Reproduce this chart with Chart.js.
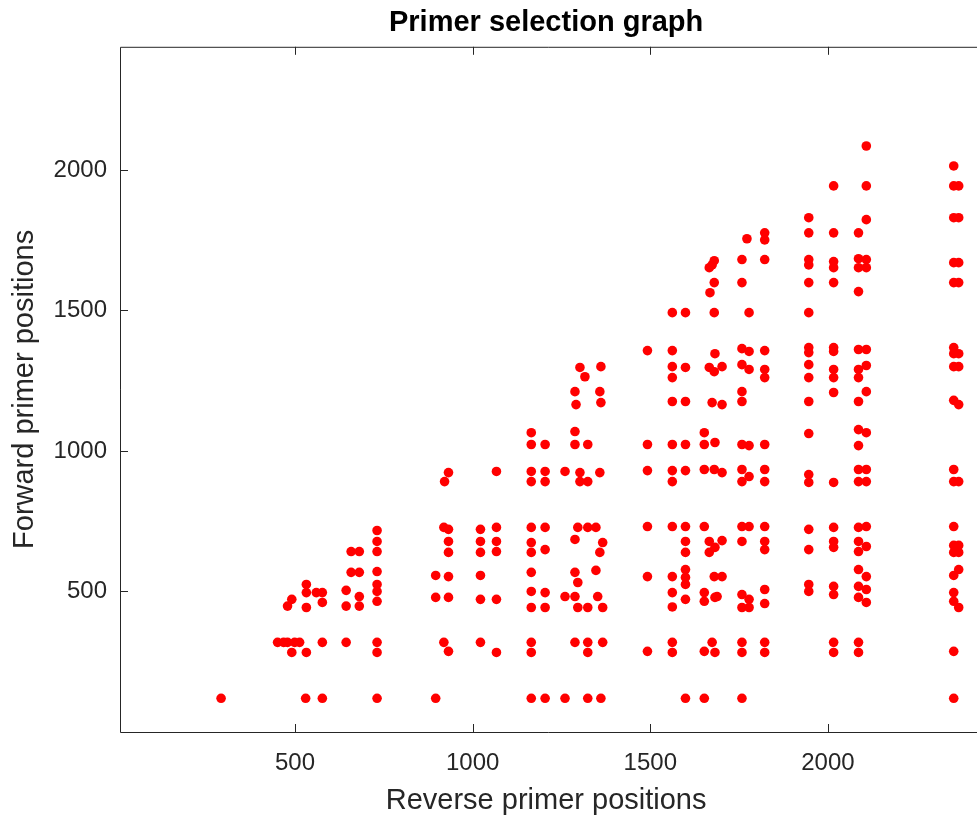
<!DOCTYPE html>
<html>
<head>
<meta charset="utf-8">
<title>Primer selection graph</title>
<script src="https://cdn.jsdelivr.net/npm/chart.js@4.4.1/dist/chart.umd.min.js"></script>
<style>
  html, body { margin: 0; padding: 0; background: #fff; }
  #wrap { width: 977px; height: 819px; }
</style>
</head>
<body>
<div id="wrap"><canvas id="chart"></canvas></div>
<script>
// reverse primer position of each column of points
const reversePos = [
  292, 451, 468, 479, 491, 499, 513, 530, 532, 560, 577, 644, 658, 681, 731,
  896, 919, 921, 932, 1022, 1067,
  1165, 1204, 1260, 1288, 1291, 1296, 1302, 1316, 1324, 1347, 1352, 1358, 1361, 1366,
  1492, 1562, 1599, 1652, 1666, 1668, 1674, 1680, 1682, 1688, 1702,
  1758, 1772, 1778, 1822, 1946, 2016, 2086, 2108, 2354, 2368
];

// forward primer positions found in that column
const forwardPos = [
  [120], [319], [319], [319, 448], [283, 472], [319], [319], [120],
  [283, 443, 496, 525], [496], [120, 319, 461, 496], [319, 448, 504],
  [568, 642], [448, 482, 568, 642],
  [120, 283, 319, 465, 500, 525, 571, 642, 678, 717],
  [120, 479, 557], [319, 728], [891],
  [287, 479, 553, 639, 678, 721, 923],
  [319, 472, 557, 639, 678, 721],
  [283, 472, 642, 678, 728, 927],
  [120, 283, 319, 443, 500, 568, 639, 674, 728, 891, 927, 1023, 1065],
  [120, 443, 496, 649, 728, 891, 927, 1023],
  [120, 482, 927],
  [319, 482, 568, 685, 1023, 1069, 1211],
  [1165], [443, 532, 728], [891, 923, 1297], [1264],
  [120, 283, 319, 443, 728, 891, 1023],
  [575, 728], [482], [639, 923, 1211], [120, 1172, 1300], [319, 443, 674],
  [287, 553, 731, 930, 1023, 1357],
  [283, 319, 445, 496, 553, 731, 891, 930, 1023, 1176, 1261, 1300, 1357, 1492],
  [120, 472, 525, 550, 578, 639, 678, 731, 930, 1023, 1176, 1297, 1492],
  [120, 287, 465, 496, 731, 934, 1023, 1065],
  [639, 678, 1297, 1652], [1563], [319, 1172, 1662],
  [553, 934, 1282, 1492, 1599, 1677],
  [283, 479, 657, 1030, 1346], [482],
  [553, 681, 923, 1165, 1300],
  [120, 283, 319, 443, 489, 678, 731, 891, 934, 1023, 1176, 1211, 1307, 1364, 1599, 1681],
  [1755],
  [443, 472, 731, 909, 1019, 1290, 1354, 1492],
  [283, 319, 457, 507, 649, 678, 731, 891, 934, 1023, 1261, 1290, 1357, 1681, 1751, 1776],
  [500, 525, 649, 721, 888, 916, 1062, 1176, 1261, 1307, 1350, 1368, 1492, 1599, 1662, 1681, 1776, 1830],
  [283, 319, 489, 518, 657, 678, 728, 888, 1208, 1261, 1290, 1354, 1368, 1599, 1652, 1674, 1776, 1943],
  [283, 319, 479, 518, 578, 642, 678, 728, 891, 934, 1019, 1076, 1176, 1261, 1290, 1361, 1567, 1652, 1684, 1776],
  [461, 507, 553, 660, 731, 891, 934, 1065, 1211, 1304, 1361, 1652, 1681, 1823, 1943, 2085],
  [120, 287, 465, 496, 557, 639, 664, 731, 891, 934, 1180, 1300, 1346, 1368, 1599, 1670, 1830, 1943, 2014],
  [443, 578, 639, 664, 891, 1165, 1300, 1346, 1599, 1670, 1830, 1943]
];

const xTicks = [500, 1000, 1500, 2000];
const yTicks = [500, 1000, 1500, 2000];

const AXIS_COLOR = '#262626';
const FONT = "'Liberation Sans', Arial, Helvetica, sans-serif";

const points = reversePos.flatMap((x, i) => forwardPos[i].map(y => ({ x, y })));

// MATLAB style box: left/top/bottom lines with ticks pointing inward
const axesBox = {
  id: 'axesBox',
  afterDatasetsDraw(chart) {
    const { ctx, chartArea: a, scales: { x, y } } = chart;
    const tl = 8;
    ctx.save();
    ctx.strokeStyle = AXIS_COLOR;
    ctx.lineWidth = 1;
    ctx.beginPath();
    ctx.moveTo(chart.width, a.top + 0.5);
    ctx.lineTo(a.left + 0.5, a.top + 0.5);
    ctx.lineTo(a.left + 0.5, a.bottom + 0.5);
    ctx.lineTo(chart.width, a.bottom + 0.5);
    x.ticks.forEach(t => {
      const px = Math.round(x.getPixelForValue(t.value)) + 0.5;
      ctx.moveTo(px, a.bottom);
      ctx.lineTo(px, a.bottom - tl);
      ctx.moveTo(px, a.top);
      ctx.lineTo(px, a.top + tl);
    });
    y.ticks.forEach(t => {
      const py = Math.round(y.getPixelForValue(t.value)) + 0.5;
      ctx.moveTo(a.left, py);
      ctx.lineTo(a.left + tl, py);
    });
    ctx.stroke();
    ctx.restore();
  }
};

new Chart(document.getElementById('chart'), {
  type: 'scatter',
  data: {
    datasets: [{
      label: 'Primer pairs',
      data: points,
      backgroundColor: '#ff0000',
      borderWidth: 0,
      pointRadius: 4.8,
      pointHoverRadius: 4.8
    }]
  },
  options: {
    responsive: true,
    maintainAspectRatio: false,
    animation: false,
    layout: { padding: { left: 0, top: 0, bottom: 0, right: -4 } },
    plugins: {
      legend: { display: false },
      tooltip: { enabled: false },
      title: {
        display: true,
        text: 'Primer selection graph',
        fullSize: false,
        color: '#000',
        font: { family: FONT, size: 29, weight: 'bold' },
        padding: { top: 6, bottom: 6 }
      }
    },
    scales: {
      x: {
        type: 'linear',
        min: 7.5,
        max: 2406,
        afterBuildTicks: s => { s.ticks = xTicks.map(v => ({ value: v })); },
        afterFit: s => { s.height = 87; },
        grid: { display: false, drawTicks: false },
        border: { display: false },
        ticks: {
          color: AXIS_COLOR, font: { family: FONT, size: 24 }, padding: 17, maxRotation: 0,
          callback: v => String(v)
        },
        title: {
          display: true,
          text: 'Reverse primer positions',
          color: AXIS_COLOR,
          font: { family: FONT, size: 29 },
          padding: { top: 0, bottom: 1 }
        }
      },
      y: {
        type: 'linear',
        min: 0,
        max: 2438,
        afterBuildTicks: s => { s.ticks = yTicks.map(v => ({ value: v })); },
        afterFit: s => { s.width = 120; },
        grid: { display: false, drawTicks: false },
        border: { display: false },
        ticks: {
          color: AXIS_COLOR, font: { family: FONT, size: 24 }, padding: 13,
          callback: v => String(v)
        },
        title: {
          display: true,
          text: 'Forward primer positions',
          color: AXIS_COLOR,
          font: { family: FONT, size: 29 },
          padding: { top: 8, bottom: 0 }
        }
      }
    }
  },
  plugins: [axesBox]
});
</script>
</body>
</html>
